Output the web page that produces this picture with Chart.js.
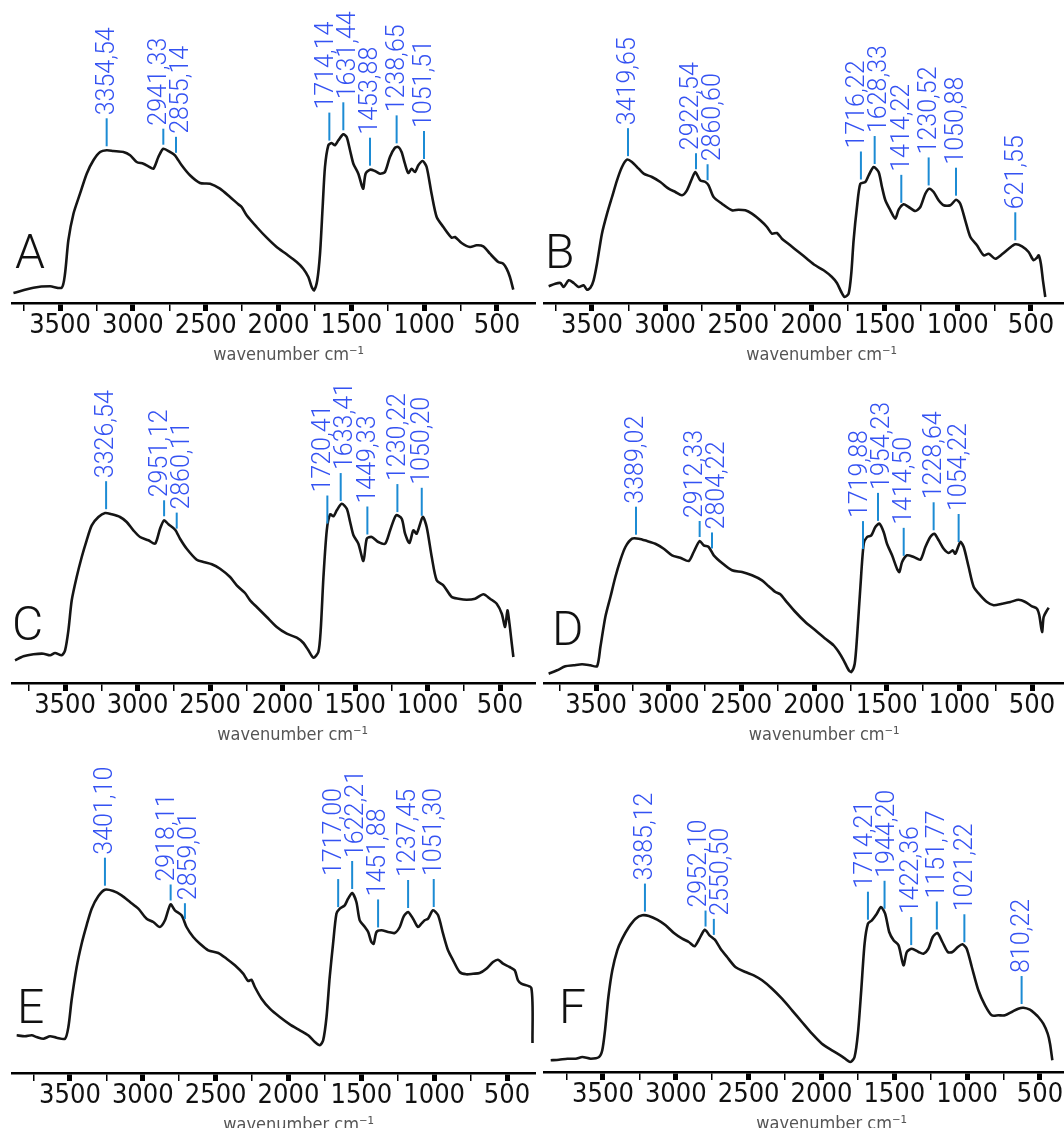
<!DOCTYPE html>
<html>
<head>
<meta charset="utf-8">
<script src="https://cdn.jsdelivr.net/npm/chart.js@4"></script>
<style>
  html, body { margin: 0; padding: 0; background: #fff; }
  body { width: 1064px; height: 1128px; overflow: hidden; position: relative; }
  canvas { position: absolute; }
</style>
</head>
<body>
<canvas id="chartB"></canvas>
<canvas id="chartD"></canvas>
<canvas id="chartF"></canvas>
<canvas id="chartA"></canvas>
<canvas id="chartC"></canvas>
<canvas id="chartE"></canvas>
<script>
// spectra: wavenumber (cm-1) and signal height
const waveA = [3820,3683,3569,3489,3466,3443,3408,3363,3317,3271,3225,3180,3134,3065,3019,2974,2928,2894,2859,2825,2791,2745,2711,2665,2608,2539,2470,2402,2333,2276,2253,2219,2150,2081,2013,1944,1875,1830,1795,1772,1756,1734,1715,1697,1681,1658,1635,1612,1589,1555,1532,1509,1486,1452,1429,1418,1402,1372,1338,1303,1269,1235,1200,1177,1155,1132,1109,1086,1063,1040,1010,983,949,914,868,811,788,743,685,640,594,548,491,457,434,411,388];
const absA = [10,15.3,16.7,15.3,29.3,62.7,89.3,109.3,129.3,142.7,151,152.7,152,151,147.7,141,139.3,136.7,134.3,146,154.3,151,147.7,137.7,127.7,120,119.3,114.3,106,98.7,96,87.7,76,65.3,56,48.7,41,34.3,26,16,12.7,22.7,49.3,96,136,157.7,160,157.7,162.7,168.7,166,152.7,139.3,129.3,117.7,114.3,129.3,133.3,132,129.3,131,146,155.3,156,151,139.3,130,134.3,131,137.7,142,136,109.3,86,76,65.3,66,60,56,57.7,56.7,49.3,41,39.3,34.3,26,13.3];

const waveB = [3796,3751,3716,3694,3659,3625,3591,3557,3534,3511,3489,3466,3432,3397,3363,3329,3295,3261,3227,3181,3147,3090,3033,2976,2930,2885,2851,2817,2794,2760,2725,2703,2669,2612,2543,2498,2452,2407,2350,2304,2270,2236,2202,2145,2088,2031,1974,1917,1860,1826,1796,1773,1746,1728,1712,1689,1666,1632,1609,1575,1541,1518,1495,1461,1427,1404,1370,1336,1290,1256,1222,1195,1165,1131,1097,1051,1012,983,949,914,869,823,789,744,698,652,607,561,516,482,459,447,432,418,402];
const absB = [16.7,19.3,20,16,22.7,20,16,17.7,13.3,15.3,22.7,39.3,69.3,89.3,106,122.7,136,143.3,141,134.3,129.3,126,121,114.3,111,107.7,112.7,124.3,131,122.7,121,117.7,106,99.3,92.7,93.3,92.7,89.3,82.7,76,69.3,70,64.3,57.7,51,44.3,37.7,32.7,26,20,11,6,9.3,29.3,62.7,96,119.3,121,127.7,136,131,116,102.7,92.7,84.3,93.3,98.7,96,92,96,109.3,114.3,111,102.7,97.7,97.7,103.3,99.3,82.7,66,57.7,47.7,49.3,44.3,48.7,54.3,58.7,56.7,51,42.7,45.3,47.7,39.3,22.7,6];

const waveC = [3845,3787,3718,3649,3603,3569,3523,3500,3477,3454,3420,3385,3351,3316,3270,3224,3178,3121,3075,3029,2983,2925,2879,2845,2817,2787,2741,2707,2661,2592,2546,2488,2431,2362,2316,2259,2224,2178,2109,2040,1971,1902,1856,1822,1787,1753,1737,1718,1695,1672,1649,1626,1592,1557,1534,1511,1477,1442,1419,1385,1339,1293,1258,1217,1178,1155,1125,1098,1075,1033,1006,971,937,891,833,787,730,672,615,569,523,488,465,449,435,419,408];
const absC = [22.7,26.7,28.7,29.3,27.7,30,27.7,32.7,52.7,82.7,106,126,142.7,157.7,166,170,168.7,166,161,152.7,146,142.7,139.3,154.3,162.7,158.7,153.3,144.3,134.3,123.3,121,118.7,114.3,106,97.7,90,82.7,76,66,56,49.3,45.3,40,32.7,25.3,31,52.7,106,152.7,168.7,166.7,172.7,179.3,174.3,161,147.7,139.3,122,144.3,146,141,139.3,152.7,167.7,164.3,149.3,140,152.7,149.3,166,156,126,102.7,97.7,86,84.3,83.3,84.3,88.7,84.3,79.3,69.3,56,72.7,59.3,39.3,26];

const waveD = [3826,3768,3711,3654,3596,3539,3493,3470,3436,3401,3367,3333,3298,3252,3206,3149,3092,3034,2977,2920,2862,2828,2787,2759,2725,2690,2633,2564,2495,2427,2358,2312,2266,2232,2197,2128,2060,1991,1922,1865,1830,1796,1761,1743,1720,1704,1681,1658,1635,1606,1578,1550,1521,1498,1463,1429,1413,1394,1360,1314,1268,1234,1200,1172,1142,1108,1073,1046,1028,993,970,936,901,856,810,764,706,649,592,546,500,466,450,431,420,397,385];
const absD = [9.3,12.7,16.7,17.7,18.7,17.7,16.7,36,66,86,106,122.7,136,144.3,144.3,142,139.3,134.3,127.7,125.3,122,131,142,137.7,136,127.7,120,112.7,111,107.7,102.7,96.7,91,88.7,82.7,71,61,52.7,44.3,37.7,31,22.7,12.7,11,19.3,46,96,139.3,146,147.7,156,159.3,151,139.3,127.7,114.3,111,121,127.7,126,123.3,136,146,149.3,142.7,134.3,130,132.7,129.3,141,136,116,96,87.7,81,77.7,79.3,81,83.3,81,76.7,74.3,67.7,51,66,72.7,75.3];

const waveE = [3866,3809,3763,3729,3683,3637,3592,3534,3511,3489,3454,3420,3386,3351,3306,3260,3203,3146,3088,3031,2974,2928,2883,2848,2810,2780,2734,2700,2654,2608,2551,2482,2425,2368,2311,2277,2254,2231,2185,2128,2060,1991,1922,1865,1819,1785,1762,1739,1717,1694,1671,1648,1614,1591,1563,1534,1511,1476,1453,1431,1415,1396,1362,1316,1271,1236,1209,1179,1145,1111,1088,1065,1042,1008,973,939,905,870,825,779,733,688,642,596,562,527,482,447,425,402,333,325];
const absE = [37.7,36.7,37.7,36,34.3,36.7,35.3,34.3,46,72.7,106,129.3,147.7,164.3,176.7,183.3,182,177.7,171,164.3,154.3,151,146,152.7,168.7,162.7,157.7,146,136,129.3,122.7,120,114.3,107.7,99.3,92,93.3,86,74.3,64.3,56,48.7,42.7,37.7,31,27.7,32.7,56,96,129.3,159.3,164.3,167.7,174.3,180,171,152.7,146,141,131,129.3,141,142.7,141,140,146,156.7,161,154.3,146,149.3,152.7,154.3,162.7,157.7,139.3,122.7,112.7,101,98.7,99.3,100,104.3,111,113.3,109.3,106,102.7,92.7,89.3,85,30];

const waveF = [3859,3802,3744,3687,3642,3584,3527,3505,3486,3463,3436,3402,3368,3322,3276,3230,3185,3128,3070,3013,2956,2911,2872,2842,2801,2769,2732,2693,2648,2591,2522,2465,2408,2339,2271,2202,2134,2065,1997,1928,1860,1802,1773,1750,1727,1704,1681,1654,1620,1592,1563,1535,1505,1471,1437,1414,1380,1334,1300,1266,1236,1204,1170,1133,1101,1064,1032,1003,968,923,877,831,786,740,694,649,614,569,534,511,477,447,431,415];
const absF = [11.7,12.3,13.3,13.3,15,13.3,15,21.7,41.7,75,101.7,121.7,133.3,145,153.3,156.7,156,152.3,146.7,139,133.3,130,125.7,132.3,142.3,136.7,132.3,123.3,115,105,100,96.7,91.7,83.3,73.3,61.7,50,38.3,28.3,21.7,15.7,10,15,38.3,81.7,128.3,148.3,151.7,158.3,165,158.3,140,131.7,126.7,106.7,120,123.3,120,118.3,123.3,135,139,130,120,120,125,127.7,123.3,105,81.7,66.7,56.7,56.7,56.7,60,63.3,64.3,62.3,58.3,55,48.3,38.3,28.3,11.7];

// peak markers: where they sit on the axis, and the printed label
const peakPosA = [3180,2791,2704,1651,1555,1372,1189,1001];
const peakTextA = ['3354,54','2941,33','2855,14','1714,14','1631,44','1453,88','1238,65','1051,51'];
const peakPosB = [3254,2789,2710,1662,1568,1386,1199,1012,607];
const peakTextB = ['3419,65','2922,54','2860,60','1716,22','1628,33','1414,22','1230,52','1050,88','621,55'];
const peakPosC = [3217,2817,2730,1691,1599,1415,1208,1040];
const peakTextC = ['3326,54','2951,12','2860,11','1720,41','1633,41','1449,33','1230,22','1050,20'];
const peakPosD = [3225,2787,2702,1663,1560,1383,1177,1005];
const peakTextD = ['3389,02','2912,33','2804,22','1719,88','1954,23','1414,50','1228,64','1054,22'];
const peakPosE = [3260,2809,2711,1659,1563,1385,1179,1003];
const peakTextE = ['3401,10','2918,11','2859,01','1717,00','1622,21','1451,88','1237,45','1051,30'];
const peakPosF = [3212,2796,2739,1681,1567,1384,1208,1019,626];
const peakTextF = ['3385,12','2952,10','2550,50','1714,21','1944,20','1422,36','1151,77','1021,22','810,22'];

const tickValues = [3750,3500,3250,3000,2750,2500,2250,2000,1750,1500,1250,1000,750,500];

const FONT = '"DejaVu Sans Condensed", "DejaVu Sans", sans-serif';
const LIGHT = 'Roboto, "DejaVu Sans Condensed", sans-serif';

const panels = [
  { letter: 'A', wave: waveA, abs: absA, pos: peakPosA, text: peakTextA, left: 0,   top: 0,   width: 536, height: 370, plotH: 303, xMin: 232, xMax: 3830, letterX: 15, letterLift: 35 },
  { letter: 'B', wave: waveB, abs: absB, pos: peakPosB, text: peakTextB, left: 532, top: 0,   width: 532, height: 370, plotH: 303, xMin: 274, xMax: 3828, letterX: 13, letterLift: 35 },
  { letter: 'C', wave: waveC, abs: absC, pos: peakPosC, text: peakTextC, left: 0,   top: 370, width: 536, height: 380, plotH: 313, xMin: 252, xMax: 3866, letterX: 12, letterLift: 43 },
  { letter: 'D', wave: waveD, abs: absD, pos: peakPosD, text: peakTextD, left: 532, top: 370, width: 532, height: 380, plotH: 313, xMin: 280, xMax: 3858, letterX: 20, letterLift: 38 },
  { letter: 'E', wave: waveE, abs: absE, pos: peakPosE, text: peakTextE, left: 0,   top: 750, width: 536, height: 390, plotH: 323, xMin: 301, xMax: 3898, letterX: 17, letterLift: 50 },
  { letter: 'F', wave: waveF, abs: absF, pos: peakPosF, text: peakTextF, left: 532, top: 750, width: 532, height: 389, plotH: 322, xMin: 335, xMax: 3905, letterX: 27, letterLift: 49 }
];

function heightAt(wave, abs, x) {
  for (let i = 0; i < wave.length - 1; i++) {
    if (wave[i] >= x && wave[i + 1] <= x) {
      const t = (wave[i] - x) / (wave[i] - wave[i + 1]);
      return abs[i] + t * (abs[i + 1] - abs[i]);
    }
  }
  return 0;
}

// spread labels of close peaks apart so the rotated texts don't overlap
function spreadLabels(xs, minGap) {
  const order = xs.map((v, i) => i).sort((a, b) => xs[a] - xs[b]);
  const tx = xs.slice();
  for (let it = 0; it < 20; it++) {
    for (let k = 0; k < order.length - 1; k++) {
      const i = order[k], j = order[k + 1];
      const d = tx[j] - tx[i];
      if (d < minGap) {
        const s = (minGap - d) / 2;
        tx[i] -= s;
        tx[j] += s;
      }
    }
  }
  return tx;
}

function decor(p) {
  return {
    id: 'decor' + p.letter,
    afterDatasetsDraw(chart) {
      const { ctx, chartArea, scales: { x, y } } = chart;
      const xs = p.pos.map(v => x.getPixelForValue(v));
      const tx = spreadLabels(xs, 22);
      ctx.save();
      p.pos.forEach((pos, i) => {
        const px = xs[i];
        const len = (pos > 2650 && pos < 2850) ? 16 : 28;
        const yBottom = y.getPixelForValue(heightAt(p.wave, p.abs, pos) + 4);
        const yTop = yBottom - len;
        ctx.strokeStyle = '#1c8bd4';
        ctx.lineWidth = 2;
        ctx.beginPath();
        ctx.moveTo(px, yBottom);
        ctx.lineTo(px, yTop);
        ctx.stroke();
        ctx.save();
        ctx.translate(tx[i], yTop - 3);
        ctx.rotate(-Math.PI / 2);
        ctx.fillStyle = '#3452f2';
        ctx.font = '300 25px ' + LIGHT;
        ctx.textAlign = 'left';
        ctx.textBaseline = 'middle';
        ctx.fillText(p.text[i], 0, 1);
        ctx.restore();
      });
      ctx.fillStyle = '#111';
      ctx.font = '300 48px ' + LIGHT;
      ctx.textAlign = 'left';
      ctx.textBaseline = 'alphabetic';
      ctx.fillText(p.letter, p.letterX, chartArea.bottom - p.letterLift);
      ctx.fillStyle = '#555';
      ctx.font = '18px ' + FONT;
      ctx.textAlign = 'center';
      ctx.textBaseline = 'middle';
      ctx.fillText('wavenumber cm\u207B\u00B9', x.getPixelForValue(1930), chartArea.bottom + 52);
      ctx.restore();
    }
  };
}

panels.forEach(p => {
  const canvas = document.getElementById('chart' + p.letter);
  canvas.width = p.width;
  canvas.height = p.height;
  canvas.style.left = p.left + 'px';
  canvas.style.top = p.top + 'px';

  new Chart(canvas, {
    type: 'line',
    data: {
      datasets: [{
        data: p.wave.map((w, i) => ({ x: w, y: p.abs[i] })),
        borderColor: '#151515',
        borderWidth: 2.6,
        pointRadius: 0,
        tension: 0.25,
        fill: false
      }]
    },
    options: {
      responsive: false,
      animation: false,
      layout: { padding: { left: 12, right: 0, top: 0, bottom: 0 } },
      plugins: { legend: { display: false }, tooltip: { enabled: false } },
      scales: {
        x: {
          type: 'linear',
          reverse: true,
          min: p.xMin,
          max: p.xMax,
          afterBuildTicks: axis => { axis.ticks = tickValues.map(v => ({ value: v })); },
          afterFit: scale => { scale.height = p.height - p.plotH; },
          ticks: {
            autoSkip: false,
            maxRotation: 0,
            padding: -1,
            color: '#111',
            font: { family: FONT, size: 27 },
            callback: v => v % 500 === 0 ? String(v) : ''
          },
          grid: {
            drawOnChartArea: false,
            tickLength: 8,
            color: '#000',
            lineWidth: c => (c.tick && c.tick.value % 500 === 0) ? 5 : 1.5
          },
          border: { display: true, color: '#000', width: 2.5 }
        },
        y: { display: false, min: 0, max: p.plotH }
      }
    },
    plugins: [decor(p)]
  });
});
</script>
</body>
</html>
